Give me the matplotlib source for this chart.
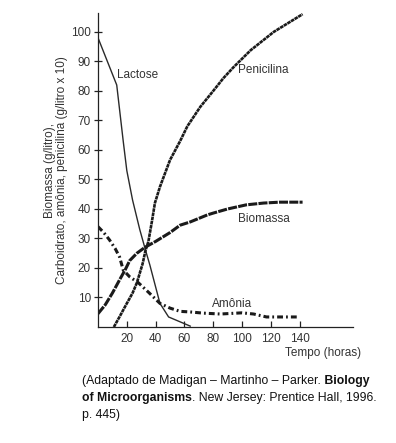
import matplotlib
matplotlib.use("Agg")
import matplotlib.pyplot as plt
from matplotlib.offsetbox import TextArea, HPacker, VPacker, AnchoredOffsetbox

plt.rcParams['font.family'] = ['Liberation Sans', 'DejaVu Sans']
plt.rcParams['lines.scale_dashes'] = False

# ---- data ----
lac_t = [0, 13, 17.5, 20, 24, 29, 33, 36, 43, 49, 64]
lac_v = [98, 82, 63, 53, 43, 33, 26, 21, 8, 3.4, 0.3]

pen_t = [11, 15, 20, 24, 27, 31, 33, 35, 37.5, 39.5, 43, 50, 57, 62, 71, 80, 87, 94, 106, 122, 142]
pen_v = [0, 3.5, 8, 11.5, 15, 21.5, 26, 29, 36, 42, 47.5, 56.6, 63, 68, 74.6, 80, 84.3, 88, 93.8, 100, 106]

bio_t = [0, 5, 10, 15, 19, 22, 27, 32.6, 40, 50, 57, 64, 76, 80, 90, 103, 115, 126, 142]
bio_v = [4.5, 7.5, 11.5, 16, 19.5, 22.5, 25, 27, 29, 32, 34.5, 35.6, 38, 38.6, 40, 41.4, 42, 42.3, 42.3]

amo_t = [0, 4, 8, 12, 15, 17.5, 22, 28, 35, 43, 50, 57, 64, 73, 85, 100, 108, 117, 139]
amo_v = [34, 32, 29.5, 26.5, 23.7, 19.3, 17, 15, 11.8, 8, 6.4, 5.3, 5.1, 4.7, 4.4, 4.8, 4.4, 3.4, 3.4]

x_ticks = [20, 40, 60, 80, 100, 120, 140]
y_ticks = [10, 20, 30, 40, 50, 60, 70, 80, 90, 100]

W, H = 396, 443
fig = plt.figure(figsize=(W / 100, H / 100), dpi=100)
ax = fig.add_axes([98 / W, 1 - 327 / H, (353 - 98) / W, (327 - 13) / H])

ink = '#1a1a1a'
ax.plot(lac_t, lac_v, color='#2a2a2a', lw=1.0, solid_joinstyle='miter')
ax.plot(pen_t, pen_v, color=ink, lw=1.9, linestyle=(0, (2.6, 0.45)))
ax.plot(bio_t, bio_v, color=ink, lw=2.2, linestyle=(0, (6.5, 0.9)))
ax.plot(amo_t, amo_v, color=ink, lw=2.2, linestyle=(0, (4.2, 2.2, 1.3, 2.2)))

ax.set_xlim(0, 177)
ax.set_ylim(0, 106.4)
ax.set_xticks(x_ticks)
ax.set_yticks(y_ticks)
for s in ('top', 'right'):
    ax.spines[s].set_visible(False)
for s in ('left', 'bottom'):
    ax.spines[s].set_color('#222222')
    ax.spines[s].set_linewidth(0.9)
ax.tick_params(axis='x', direction='in', length=4, width=0.9, colors='#222222',
               labelsize=8.5, labelcolor='#333333', pad=4)
ax.tick_params(axis='y', direction='inout', length=6, width=0.9, colors='#222222',
               labelsize=8.5, labelcolor='#333333', pad=2)

ax.set_ylabel('Biomassa (g/litro),\nCarboidrato, amônia, penicilina (g/litro x 10)',
              fontsize=8.5, color='#333333', linespacing=1.1, labelpad=2)

tk = dict(fontsize=8.5, color='#333333', va='center', ha='left')
ax.text(13.5, 85.4, 'Lactose', **tk)
ax.text(97, 87, 'Penicilina', **tk)
ax.text(97, 36.6, 'Biomassa', **tk)
ax.text(79, 7.8, 'Amônia', **tk)

fig.text(323 / W, 1 - 353 / H, 'Tempo (horas)', fontsize=8.5, color='#333333',
         ha='center', va='center')

# ---- caption with mixed bold ----
norm = dict(fontsize=8.8, color='#111111')
bold = dict(fontsize=8.8, color='#111111', fontweight='bold')
line1 = HPacker(children=[TextArea('(Adaptado de Madigan – Martinho – Parker.', textprops=norm),
                          TextArea(' Biology', textprops=bold)], sep=0, align='baseline')
line2 = HPacker(children=[TextArea('of Microorganisms', textprops=bold),
                          TextArea('. New Jersey: Prentice Hall, 1996.', textprops=norm)],
                sep=0, align='baseline')
line3 = HPacker(children=[TextArea('p. 445)', textprops=norm)], sep=0)
cap = VPacker(children=[line1, line2, line3], sep=3.5, align='left')
ab = AnchoredOffsetbox(loc='upper left', child=cap, pad=0, borderpad=0, frameon=False,
                       bbox_to_anchor=(82 / W, 1 - 375 / H), bbox_transform=fig.transFigure)
fig.add_artist(ab)

fig.savefig('out.png', dpi=100)
